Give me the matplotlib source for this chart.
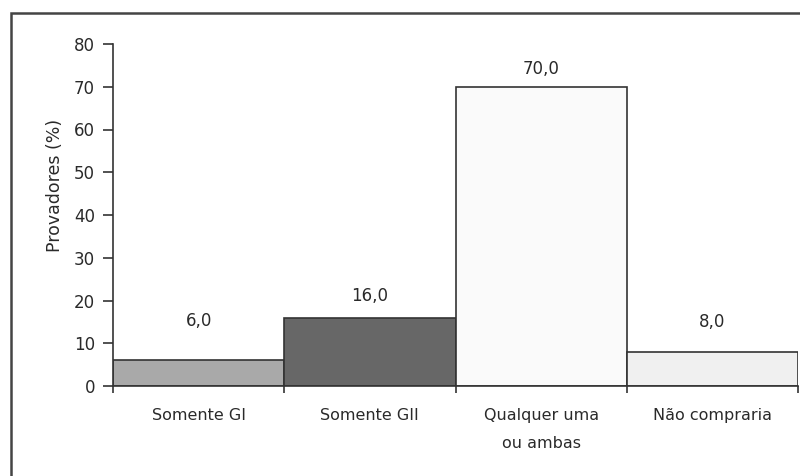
import matplotlib
matplotlib.use("Agg")
import matplotlib.pyplot as plt
from matplotlib.patches import Rectangle

categories = ["Somente GI", "Somente GII", "Qualquer uma\nou ambas", "Não compraria"]
values = [6.0, 16.0, 70.0, 8.0]
value_labels = ["6,0", "16,0", "70,0", "8,0"]
yticks = [0, 10, 20, 30, 40, 50, 60, 70, 80]
ylabel = "Provadores (%)"

bar_colors = ["#a9a9a9", "#676767", "#fafafa", "#f0f0f0"]
label_offsets_px = [39, 22, 18, 30]

plt.rcParams['font.family'] = ['DejaVu Sans']
fig = plt.figure(figsize=(8, 4.76), dpi=100)
W, H = 800, 476

# outer border
fig.patches.append(Rectangle((11 / W, -0.1), 1.2, 1 - 13 / H + 0.1, transform=fig.transFigure,
                             fill=False, edgecolor="#444444", linewidth=1.8))

ax = fig.add_axes([113 / W, 1 - 386 / H, (798 - 113) / W, (386 - 44) / H])
x = list(range(len(categories)))
ax.bar(x, values, width=1.0, color=bar_colors, edgecolor="#333333", linewidth=1.2, zorder=2)
ax.set_xlim(-0.5, len(categories) - 0.5)
ax.set_ylim(0, 80)
ax.set_yticks(yticks)
ax.set_yticklabels([str(t) for t in yticks], fontsize=12, color="#2a2a2a")
ax.set_xticks(x)
ax.set_xticklabels(categories, fontsize=11.5, color="#2a2a2a", linespacing=2.1, va="top")
ax.set_xticks([i - 0.5 for i in range(len(categories) + 1)], minor=True)
ax.tick_params(axis="x", which="major", length=0, pad=16)
ax.tick_params(axis="x", which="minor", length=5, width=1.2, color="#333333", direction="out")
ax.tick_params(axis="y", length=7, width=1.2, color="#333333", pad=6, direction="out")
for s in ["top", "right"]:
    ax.spines[s].set_visible(False)
for s in ["left", "bottom"]:
    ax.spines[s].set_color("#333333")
    ax.spines[s].set_linewidth(1.2)

for xi, v, lab, off in zip(x, values, value_labels, label_offsets_px):
    ax.annotate(lab, (xi, v), xytext=(0, off * 72 / 100), textcoords="offset points",
                ha="center", va="center", fontsize=12, color="#2a2a2a")

fig.text(55 / W, 1 - 185 / H, ylabel, rotation=90, ha="center", va="center",
         fontsize=12.5, color="#2a2a2a")

fig.savefig("out.png", dpi=100, facecolor="white")
